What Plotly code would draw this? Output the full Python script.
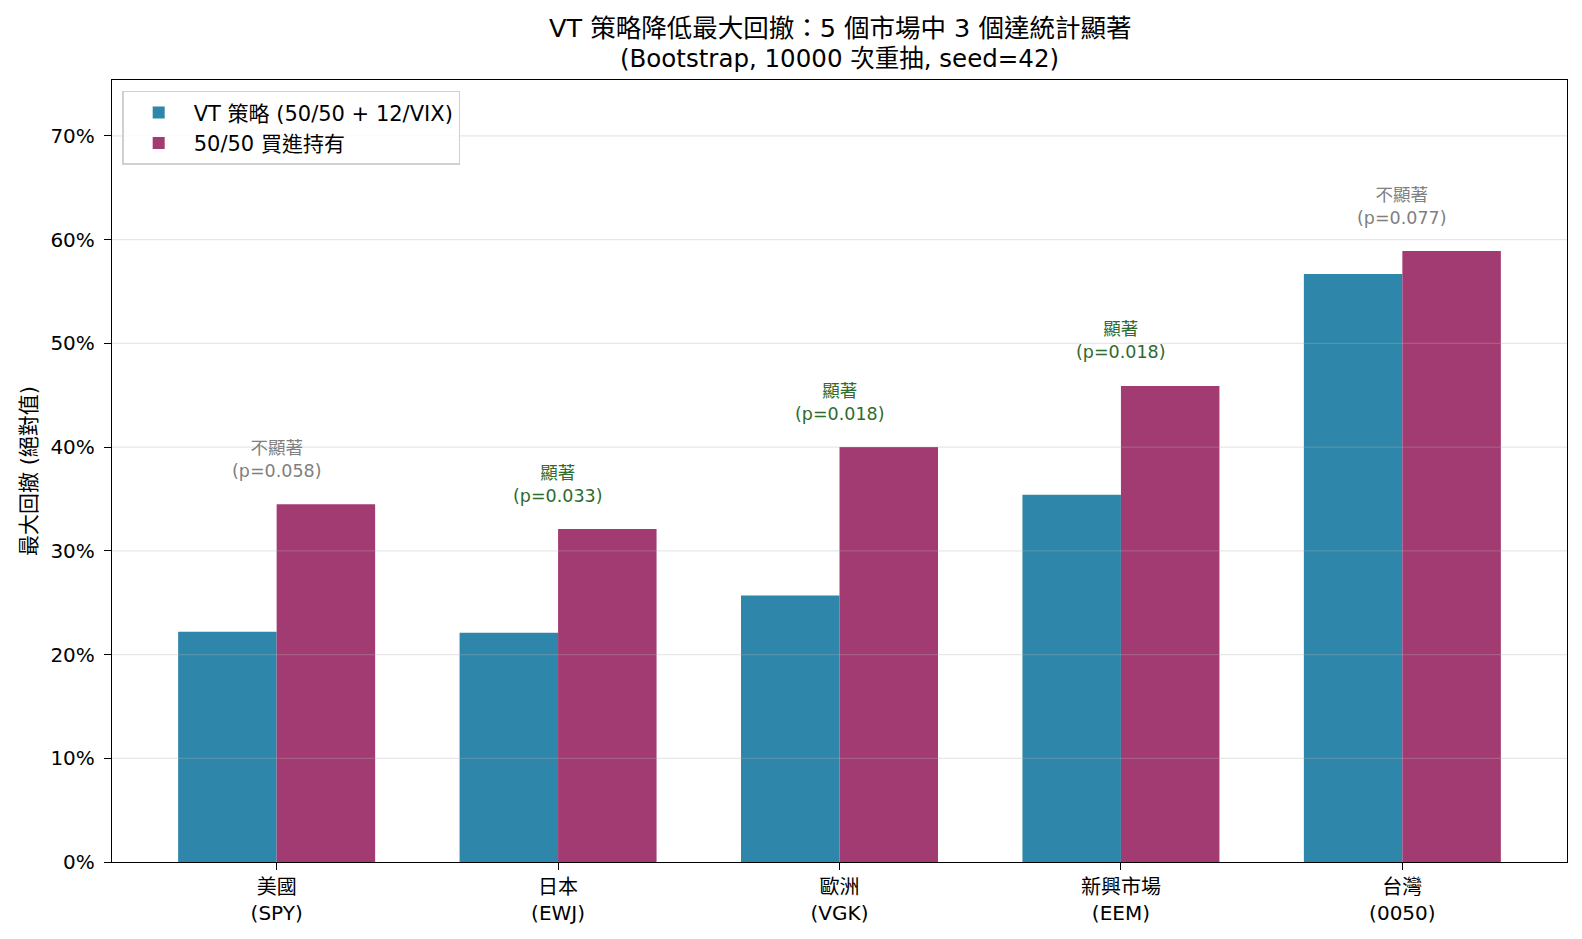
import plotly.graph_objects as go

categories = ["美國<br>(SPY)", "日本<br>(EWJ)", "歐洲<br>(VGK)", "新興市場<br>(EEM)", "台灣<br>(0050)"]
vt_strategy = [22.2, 22.1, 25.7, 35.4, 56.7]
buy_hold = [34.5, 32.1, 40.0, 45.9, 58.9]
p_values = [0.058, 0.033, 0.018, 0.018, 0.077]
significant = [False, True, True, True, False]
y_ticks = [0, 10, 20, 30, 40, 50, 60, 70]

FONT = "DejaVu Sans, Noto Sans CJK TC"
x = list(range(len(categories)))
ymax = max(buy_hold) * 1.28

fig = go.Figure()
fig.add_trace(go.Bar(x=x, y=vt_strategy, name="VT 策略 (50/50 + 12/VIX)",
                     marker=dict(color="#2E86AB", line=dict(width=0))))
fig.add_trace(go.Bar(x=x, y=buy_hold, name="50/50 買進持有",
                     marker=dict(color="#A23B72", line=dict(width=0))))

# gridlines drawn above bars (matplotlib default)
for t in y_ticks[1:]:
    fig.add_shape(type="line", xref="paper", x0=0, x1=1, yref="y", y0=t, y1=t,
                  line=dict(color="rgba(176,176,176,0.3)", width=1.2), layer="above")

for i in range(len(categories)):
    top = max(vt_strategy[i], buy_hold[i])
    label = "顯著" if significant[i] else "不顯著"
    color = "#2E6B2E" if significant[i] else "#808080"
    fig.add_annotation(x=x[i], y=top, yshift=45, text=f"{label}<br>(p={p_values[i]:.3f})",
                       showarrow=False, yanchor="middle", xanchor="center",
                       font=dict(family=FONT, size=17.5, color=color))

# title (two lines)
fig.add_annotation(xref="paper", yref="paper", x=0.5, y=1.0659, yanchor="middle",
                   text="VT 策略降低最大回撤：5 個市場中 3 個達統計顯著", showarrow=False,
                   font=dict(family=FONT, size=25.5, color="black"))
fig.add_annotation(xref="paper", yref="paper", x=0.5, y=1.0275, yanchor="middle",
                   text="(Bootstrap, 10000 次重抽, seed=42)", showarrow=False,
                   font=dict(family=FONT, size=24.5, color="black"))

fig.update_layout(
    width=1582, height=939,
    paper_bgcolor="white", plot_bgcolor="white",
    margin=dict(l=112, r=15, t=80, b=77),
    barmode="group", bargap=0.3, bargroupgap=0,
    font=dict(family=FONT, size=20, color="black"),
    legend=dict(x=0.007, y=0.986, xanchor="left", yanchor="top",
                bgcolor="rgba(255,255,255,0.8)", bordercolor="#d0d0d0", borderwidth=1.5,
                font=dict(family=FONT, size=21, color="black"), itemwidth=60),
    showlegend=True,
)
fig.update_xaxes(range=[-0.585, 4.585], tickvals=x, ticktext=categories,
                 showgrid=False, showline=True, linecolor="black", linewidth=1.3,
                 mirror=True, ticks="outside", ticklen=7, tickcolor="black", tickwidth=1.3,
                 tickfont=dict(family=FONT, size=20, color="black"), zeroline=False)
fig.update_yaxes(range=[0, ymax], tickvals=y_ticks, ticktext=[f"{t}%" for t in y_ticks],
                 showgrid=False, showline=True, linecolor="black", linewidth=1.3,
                 mirror=True, ticks="outside", ticklen=7, tickcolor="black", tickwidth=1.3,
                 ticklabelstandoff=5,
                 tickfont=dict(family=FONT, size=20, color="black"), zeroline=False,
                 title=dict(text="最大回撤 (絕對值)", font=dict(family=FONT, size=21, color="black"),
                            standoff=8))

fig.write_html("out.html")
